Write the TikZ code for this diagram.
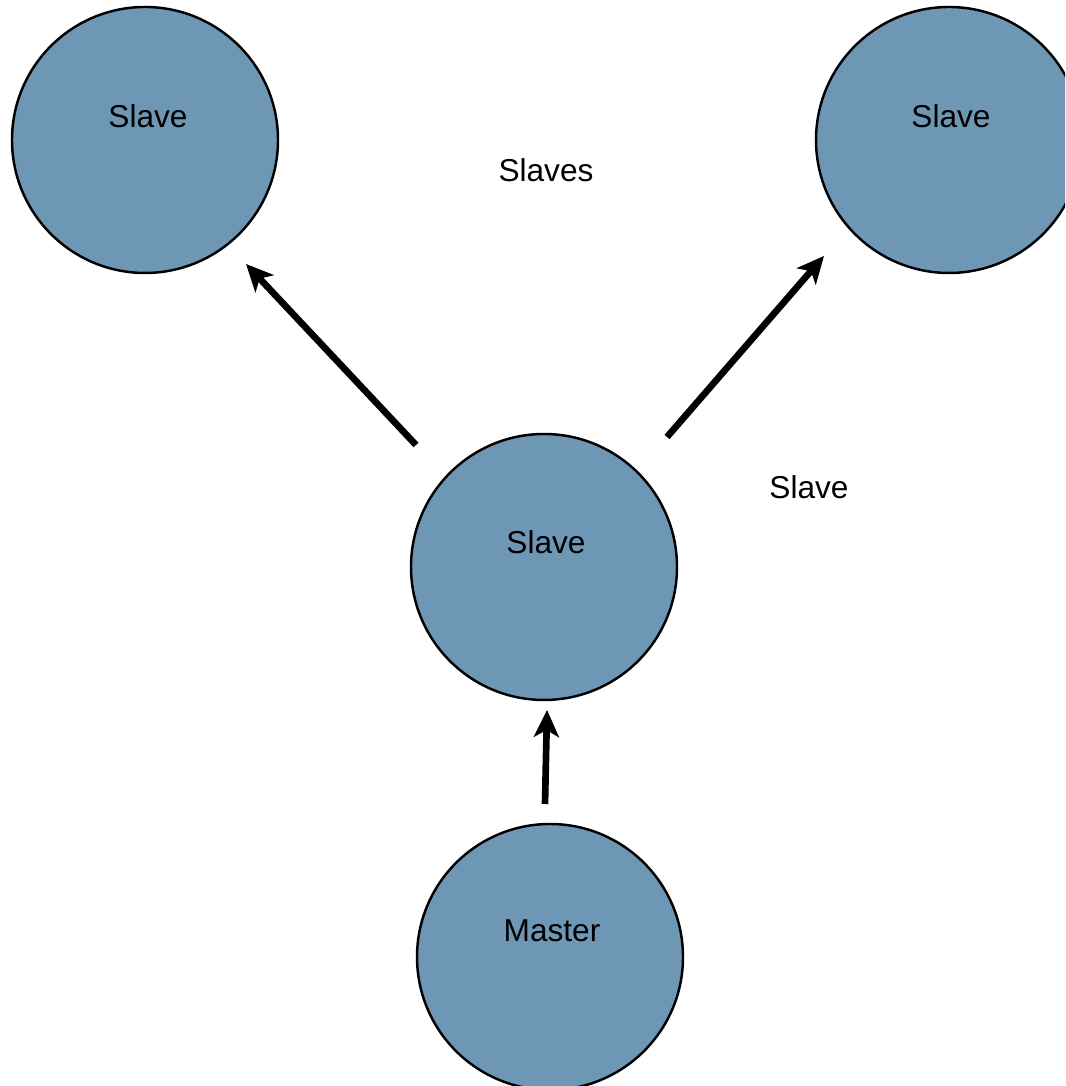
\documentclass[tikz,border=0pt]{standalone}
\usepackage{fontspec}
\setmainfont{Liberation Sans}
\usetikzlibrary{arrows.meta}
\definecolor{nodeblue}{RGB}{110,151,182}
\tikzset{worker/.style={circle, draw=black, line width=0.7pt, fill=nodeblue, minimum size=2.66cm, inner sep=0pt},
         tag/.style={font=\fontsize{9}{11}\selectfont, inner sep=1pt},
         push/.style={line width=1.9pt, -{Stealth[length=2.7mm,width=2.5mm,inset=0.7mm]}}}

\begin{document}
\begin{tikzpicture}
  \useasboundingbox (0,0) rectangle (10.65,10.86);
  \clip (0,0) rectangle (10.65,10.86);
  % circles
  \node[worker] (sl) at (1.45,9.46) {};
  \node[worker] (sr) at (9.49,9.46) {};
  \node[worker] (sm) at (5.44,5.19) {};
  \node[worker] (ma) at (5.50,1.29) {};
  % texts
  \node[tag] (tsl) at (1.48,9.70) {Slave};
  \node[tag] (tsr) at (9.51,9.70) {Slave};
  \node[tag] (tsm) at (5.46,5.44) {Slave};
  \node[tag] (tma) at (5.52,1.55) {Master};
  \node[tag] (grp) at (5.46,9.16) {Slaves};
  \node[tag] (one) at (8.09,5.99) {Slave};
  % arrow ends
  \coordinate (lfrom) at (4.16,6.41);
  \coordinate (lto)   at (2.46,8.22);
  \coordinate (rfrom) at (6.67,6.49);
  \coordinate (rto)   at (8.24,8.30);
  \coordinate (bfrom) at (5.45,2.82);
  \coordinate (bto)   at (5.47,3.76);
  \draw[push] (lfrom) -- (lto);
  \draw[push] (rfrom) -- (rto);
  \draw[push] (bfrom) -- (bto);
\end{tikzpicture}
\end{document}
